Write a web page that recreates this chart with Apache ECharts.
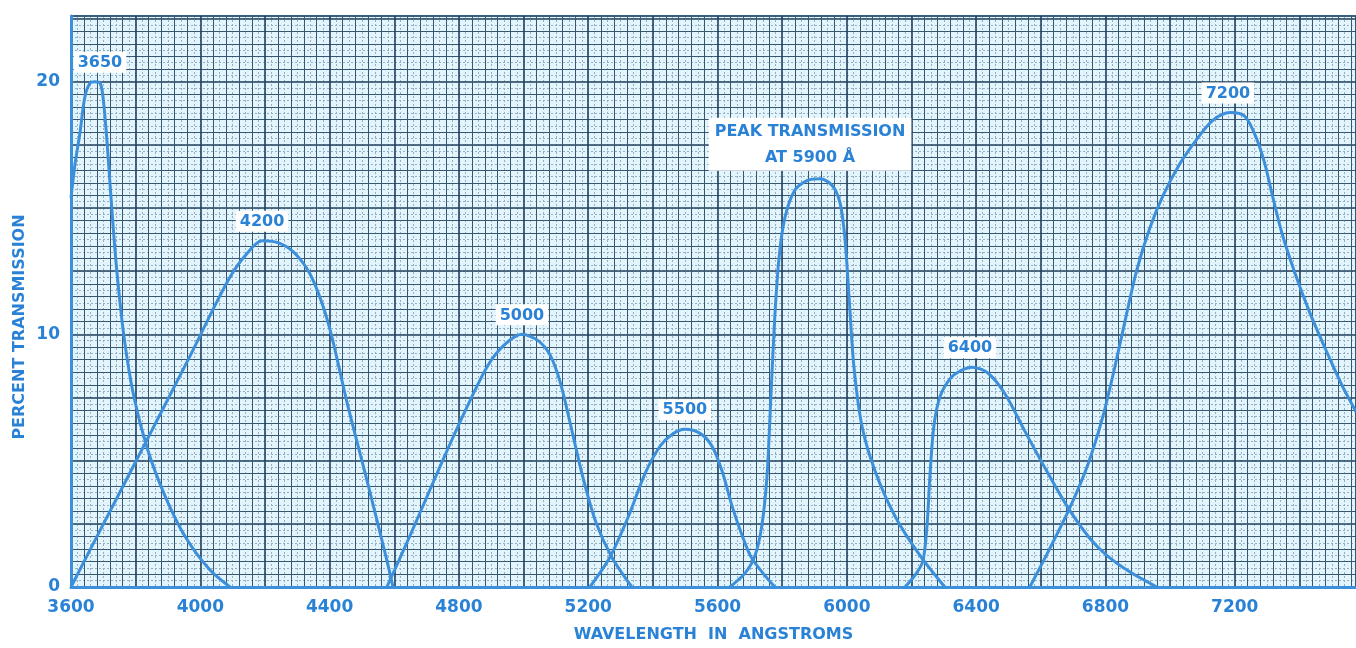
<!DOCTYPE html>
<html>
<head>
<meta charset="utf-8">
<script src="https://cdn.jsdelivr.net/npm/echarts@6/dist/echarts.min.js"></script>
<style>
  html, body { margin: 0; padding: 0; background: #ffffff; }
  #chart { width: 1356px; height: 648px; }
</style>
</head>
<body>
<div id="chart"></div>
<script>
// Filter transmission curves: [wavelength in Å, percent transmission]
const curve3650 = [[3600,15.4],[3612,16.7],[3628,18.0],[3643,19.4],[3659,19.95],[3674,20.0],[3690,19.95],[3699,19.4],[3711,17.7],[3721,15.9],[3739,12.9],[3764,9.9],[3795,7.5],[3838,5.4],[3891,3.6],[3953,2.0],[4030,0.67],[4092,0]];
const curve4200 = [[3600,0],[3690,2.24],[3782,4.51],[3875,6.82],[3968,9.14],[4036,10.9],[4092,12.27],[4138,13.1],[4191,13.7],[4246,13.6],[4293,13.2],[4339,12.4],[4376,11.25],[4407,9.9],[4454,7.3],[4516,4.2],[4577,1.06],[4596,0]];
const curve5000 = [[4577,0],[4649,2.04],[4710,3.84],[4772,5.65],[4834,7.37],[4890,8.78],[4942,9.6],[4995,10.0],[5044,9.76],[5082,9.18],[5113,8.12],[5143,6.55],[5181,4.47],[5224,2.55],[5273,1.18],[5335,0]];
const curve5500 = [[5205,0],[5267,1.18],[5323,2.75],[5375,4.47],[5422,5.57],[5459,6.04],[5499,6.24],[5546,6.08],[5583,5.57],[5614,4.59],[5645,3.2],[5676,2.04],[5706,1.14],[5777,0]];
const curve5900 = [[5638,0],[5685,0.55],[5716,1.25],[5737,2.43],[5753,4.39],[5765,7.53],[5777,10.67],[5790,13.0],[5808,14.6],[5839,15.7],[5880,16.1],[5917,16.16],[5954,15.9],[5979,15.2],[5994,13.8],[6007,11.45],[6022,8.7],[6047,6.35],[6087,4.6],[6149,2.8],[6226,1.25],[6303,0]];
const curve6400 = [[6180,0],[6211,0.47],[6235,1.02],[6248,2.43],[6257,4.39],[6269,6.35],[6288,7.53],[6319,8.24],[6350,8.55],[6387,8.7],[6436,8.47],[6489,7.65],[6551,6.16],[6613,4.71],[6684,3.14],[6752,1.92],[6804,1.25],[6876,0.59],[6959,0]];
const curve7200 = [[6566,0],[6628,1.53],[6690,3.14],[6746,4.86],[6792,6.75],[6829,8.71],[6863,10.67],[6897,12.55],[6937,14.2],[6978,15.49],[7030,16.75],[7083,17.73],[7132,18.47],[7185,18.78],[7231,18.63],[7268,17.73],[7293,16.75],[7315,15.57],[7346,14.0],[7386,12.43],[7432,10.86],[7485,9.29],[7531,8.0],[7575,6.94]];

const curves = [curve3650, curve4200, curve5000, curve5500, curve5900, curve6400, curve7200];
const peakLabels = ['3650', '4200', '5000', '5500', 'PEAK TRANSMISSION\nAT 5900 Å', '6400', '7200'];
// horizontal nudge of each peak label, in px
const labelShift = [5, 0, 0, 0, -10, -2, -2];

const xLabelValues = [3600, 4000, 4400, 4800, 5200, 5600, 6000, 6400, 6800, 7200];
const yLabelValues = [0, 10, 20];

const ink = '#2a82d6';
const lineBlue = '#3b8fdb';
const font = 'DejaVu Sans';

const X_MIN = 3600, X_MAX = 7575, Y_MIN = 0, Y_MAX = 22.6;

function peakIndex(pts) {
  let k = 0;
  pts.forEach((p, i) => { if (p[1] > pts[k][1]) k = i; });
  return k;
}

const series = curves.map((pts, ci) => {
  const k = peakIndex(pts);
  const twoLine = peakLabels[ci].indexOf('\n') >= 0;
  return {
    type: 'line',
    name: peakLabels[ci],
    xAxisIndex: 0,
    yAxisIndex: 0,
    smooth: 0.3,
    symbol: 'circle',
    symbolSize: 0,
    showSymbol: true,
    showAllSymbol: true,
    silent: true,
    z: 5,
    lineStyle: { color: lineBlue, width: 3 },
    itemStyle: { color: lineBlue },
    emphasis: { disabled: true },
    data: pts.map((p, i) => i === k ? {
      value: p,
      label: {
        show: true,
        position: 'top',
        distance: twoLine ? 8 : 9,
        offset: [labelShift[ci], 0],
        formatter: '{a}',
        color: ink,
        fontFamily: font,
        fontWeight: 'bold',
        fontSize: 16,
        lineHeight: twoLine ? 26 : 18,
        align: 'center',
        backgroundColor: '#ffffff',
        padding: twoLine ? [1, 6, 0, 6] : [2, 4, 1, 4]
      }
    } : p)
  };
});

// Graph-paper rulings: heavy / medium from the main axes, fine dotted from the auxiliary ones
const heavy = { color: '#22405e', width: 1.6 };
const medium = { color: '#38566f', width: 1 };
const fine = { color: '#9ab0c2', width: 1, type: [2, 2] };

const option = {
  animation: false,
  backgroundColor: '#ffffff',
  grid: {
    left: 71, right: 0, top: 16, bottom: 56,
    show: true,
    backgroundColor: '#e3f5fc',
    borderColor: '#7cc2ea',
    borderWidth: 2
  },
  xAxis: [
    {
      type: 'value', position: 'bottom', min: X_MIN, max: X_MAX, interval: 200, z: 1,
      axisLine: { show: true, onZero: false, lineStyle: { color: lineBlue, width: 3 } },
      axisTick: { show: false },
      axisLabel: {
        margin: 12, color: ink, fontFamily: font, fontWeight: 'bold', fontSize: 17,
        showMaxLabel: false,
        formatter: v => xLabelValues.includes(v) ? String(v) : ''
      },
      splitLine: { show: true, lineStyle: heavy },
      minorTick: { show: false, splitNumber: 5 },
      minorSplitLine: { show: true, lineStyle: medium },
      name: 'WAVELENGTH  IN  ANGSTROMS',
      nameLocation: 'middle',
      nameGap: 40,
      nameTextStyle: { color: ink, fontFamily: font, fontWeight: 'bold', fontSize: 16 }
    },
    {
      type: 'value', position: 'top', min: X_MIN, max: X_MAX, interval: 20, z: 0,
      axisLine: { show: false }, axisTick: { show: false }, axisLabel: { show: false },
      splitLine: { show: true, lineStyle: fine }
    }
  ],
  yAxis: [
    {
      type: 'value', position: 'left', min: Y_MIN, max: Y_MAX, interval: 2.5, z: 1,
      axisLine: { show: true, onZero: false, lineStyle: { color: lineBlue, width: 3 } },
      axisTick: { show: false },
      axisLabel: {
        margin: 11, color: ink, fontFamily: font, fontWeight: 'bold', fontSize: 17,
        showMaxLabel: false,
        formatter: v => yLabelValues.includes(v) ? String(v) : ''
      },
      splitLine: { show: true, lineStyle: heavy },
      minorTick: { show: false, splitNumber: 5 },
      minorSplitLine: { show: true, lineStyle: medium }
    },
    {
      type: 'value', position: 'right', min: Y_MIN, max: Y_MAX, interval: 0.25, z: 0,
      axisLine: { show: false }, axisTick: { show: false }, axisLabel: { show: false },
      splitLine: { show: true, lineStyle: fine }
    }
  ],
  graphic: [
    {
      type: 'text',
      x: 20, y: 327,
      rotation: Math.PI / 2,
      style: {
        text: 'PERCENT TRANSMISSION',
        fill: ink,
        font: 'bold 16px "DejaVu Sans"',
        align: 'center',
        verticalAlign: 'middle'
      }
    }
  ],
  series: series
};

const chart = echarts.init(document.getElementById('chart'), null, { renderer: 'canvas' });
chart.setOption(option);
</script>
</body>
</html>
